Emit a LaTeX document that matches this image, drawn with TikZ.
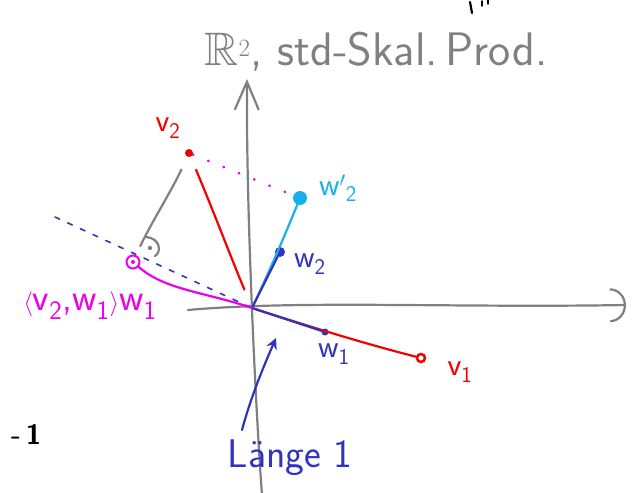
\documentclass[tikz,border=0pt]{standalone}
\usepackage{amsmath}
\usepackage{amssymb}
\usetikzlibrary{arrows.meta}

\definecolor{pengray}{RGB}{128,128,128}
\definecolor{penred}{RGB}{245,0,0}
\definecolor{penmag}{RGB}{235,0,235}
\definecolor{pencyan}{RGB}{25,175,235}
\definecolor{penblue}{RGB}{50,50,190}

\begin{document}
\begin{tikzpicture}[x=1pt,y=-1pt,
    pen/.style ={line width=2.2pt, line cap=round, line join=round},
    dot/.style ={circle, fill, inner sep=0pt, minimum size=9pt},
    ring/.style ={circle, draw, line width=2pt, inner sep=0pt, minimum size=13pt},
    lbl/.style ={font=\sffamily\fontsize{32}{32}\selectfont}]
   \useasboundingbox (0,0) rectangle (636,492);

   % axes
   \coordinate (O) at (252,308);
   \coordinate (xl) at (188,310);
   \coordinate (xr) at (626,305);
   \coordinate (yt) at (247,79);
   \coordinate (yb) at (262,495);
   \draw[pen, pengray, -{Arc Barb[length=16pt,width=34pt]}] (xl) .. controls (300,300) and (450,308) .. (xr);
   \draw[pen, pengray, -{Straight Barb[length=28pt,width=24pt]}] (yb) .. controls (255,400) and (246,200) .. (yt);

   % title
   \node[pengray, font=\sffamily\fontsize{47}{47}\selectfont] (title) at (376,52)
      {$\mathbb{R}^2$, std-Skal.\,Prod.};

   % points
   \node[dot, penred, minimum size=8pt] (v2) at (189,153) {};
   \node[ring, penred, minimum size=8pt, line width=2.5pt] (v1) at (421,358) {};
   \node[dot, pencyan, minimum size=14pt] (w2p) at (300,198) {};
   \node[dot, penblue, minimum size=10pt] (w2) at (280,252) {};
   \node[dot, penblue, minimum size=7pt] (w1) at (325,332) {};
   \node[ring, penmag] (proj) at (133,262) {};
   \node[circle, fill, penmag, inner sep=0pt, minimum size=4pt] at (proj) {};

   % labels
   \node[lbl, penred] (lv2) at (168,128) {v\textsubscript{2}};
   \node[lbl, pencyan] (lw2p) at (338,188) {w$'$\textsubscript{2}};
   \node[lbl, penblue] (lw2) at (310,264) {w\textsubscript{2}};
   \node[lbl, penblue] (lw1) at (334,354) {w\textsubscript{1}};
   \node[lbl, penred] (lv1) at (460,372) {v\textsubscript{1}};
   \node[lbl, penmag, font=\sffamily\fontsize{38}{38}\selectfont] (lproj) at (90,306) {$\langle$v\textsubscript{2},w\textsubscript{1}$\rangle$w\textsubscript{1}};
   \node[lbl, penblue, font=\sffamily\fontsize{40}{40}\selectfont] (laenge) at (290,458) {Länge 1};

   % vectors
   \draw[pen, penred] (O) .. controls (320,330) and (370,345) .. (v1);
   \draw[pen, penblue] (O) to (w1);
   \draw[pen, pencyan] (O) .. controls (270,270) and (285,235) .. (w2p);
   \draw[pen, penblue] (O) to (w2);
   \draw[pen, penred, shorten <=14pt, shorten >=20pt] (v2) .. controls (215,215) and (228,250) .. (O);

   % projection
   \draw[pen, penblue, line width=1.6pt, dash pattern=on 5pt off 9pt] (55,217) -- (O);
   \draw[pen, penmag] (proj) .. controls (165,290) and (205,292) .. (O);
   \draw[pen, penmag, line width=2.6pt, dash pattern=on 0.5pt off 16pt] (v2) -- (w2p);
   \draw[pen, pengray, shorten <=14pt, shorten >=10pt] (v2) .. controls (172,190) and (150,225) .. (proj);

   % right angle
   \coordinate (ra) at (150,248);
   \draw[pen, pengray] (146,237) .. controls (160,238) and (162,252) .. (155,256);
   \fill[pengray] (ra) circle (2.2pt);

   % Laenge 1
   \coordinate (la) at (242,430);
   \coordinate (lb) at (276,338);
   \draw[pen, penblue, -{Stealth[length=11pt,width=11pt]}] (la) .. controls (250,400) and (262,370) .. (lb);

   % fragments at the edges
   \node[font=\sffamily\bfseries\fontsize{28}{28}\selectfont] (frag) at (26,434) {-\,1};
   \draw[pen, black] (470,2) -- (472,13);
   \draw[pen, black, line width=1.4pt] (482,1) -- (482,6);
   \draw[pen, black, line width=1.4pt] (488,0) -- (488,4);
\end{tikzpicture}
\end{document}
